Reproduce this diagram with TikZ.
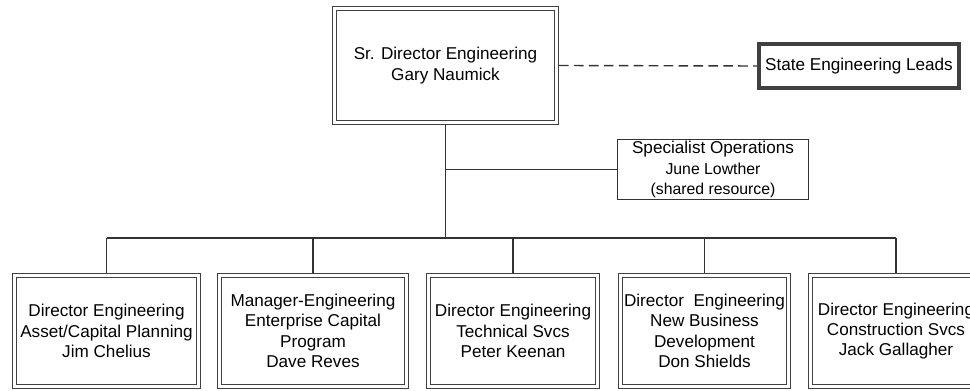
\documentclass[tikz,border=0pt]{standalone}
\usepackage{fontspec}
\setmainfont{Liberation Sans}
\begin{document}
\begin{tikzpicture}[
		x=0.02cm, y=-0.02cm,
		font=\fontsize{9.75}{11.6}\selectfont,
		conn/.style={draw=black!80, line width=0.8pt},
		dblbox/.style={draw=black!75, line width=0.75pt, double, double distance=1.4pt,
			align=center, inner sep=0pt, outer sep=1.45pt},
		staffbox/.style={dblbox, minimum height=2.22cm}
	]
	\def\BusY{238}
	\def\StaffY{331}
	\def\SmallText{\fontsize{9}{10.6}\selectfont}
	\path[use as bounding box, fill=white] (0,0) rectangle (970,391);
	\node[dblbox, minimum width=4.44cm, minimum height=2.28cm] (head) at (445.5,65.5)
		{Sr. Director Engineering\\Gary Naumick};
	\node[draw=black!75, line width=2pt, minimum width=4.01cm, minimum height=0.89cm, inner sep=0pt] (leads) at (859,66)
		{State Engineering Leads};
	\node[draw=black!80, line width=0.8pt, align=center, minimum width=3.82cm, minimum height=1.2cm, inner sep=0pt] (spec) at (713,169.5)
		{Specialist Operations\\{\SmallText June Lowther}\\{\SmallText (shared resource)}};
	\node[staffbox, minimum width=3.68cm] (asset) at (106.5,\StaffY)
		{Director Engineering\\Asset/Capital Planning\\Jim Chelius};
	\node[staffbox, minimum width=3.74cm] (capital) at (313,\StaffY)
		{Manager-Engineering\\Enterprise Capital\\Program\\Dave Reves};
	\node[staffbox, minimum width=3.38cm] (technical) at (513,\StaffY)
		{Director Engineering\\Technical Svcs\\Peter Keenan};
	\node[staffbox, minimum width=3.36cm] (newbiz) at (704.5,\StaffY)
		{Director~~Engineering\\New Business\\Development\\Don Shields};
	\node[staffbox, minimum width=3.42cm] (constr) at (896,\StaffY)
		{Director Engineering\\Construction Svcs\\Jack Gallagher};
	\coordinate (bus) at (445,\BusY);
	\draw[conn, dash pattern=on 5.5pt off 3pt] (head.east) -- (leads.west);
	\draw[conn] (head.south) -- (head.south |- bus);
	\draw[conn] (spec.west) -- (spec.west -| head.south);
	\draw[conn] (asset.north |- bus) -- (constr.north |- bus);
	\foreach \staff in {asset,capital,technical,newbiz,constr}
		\draw[conn] (\staff.north) -- (\staff.north |- bus);
\end{tikzpicture}
\end{document}
